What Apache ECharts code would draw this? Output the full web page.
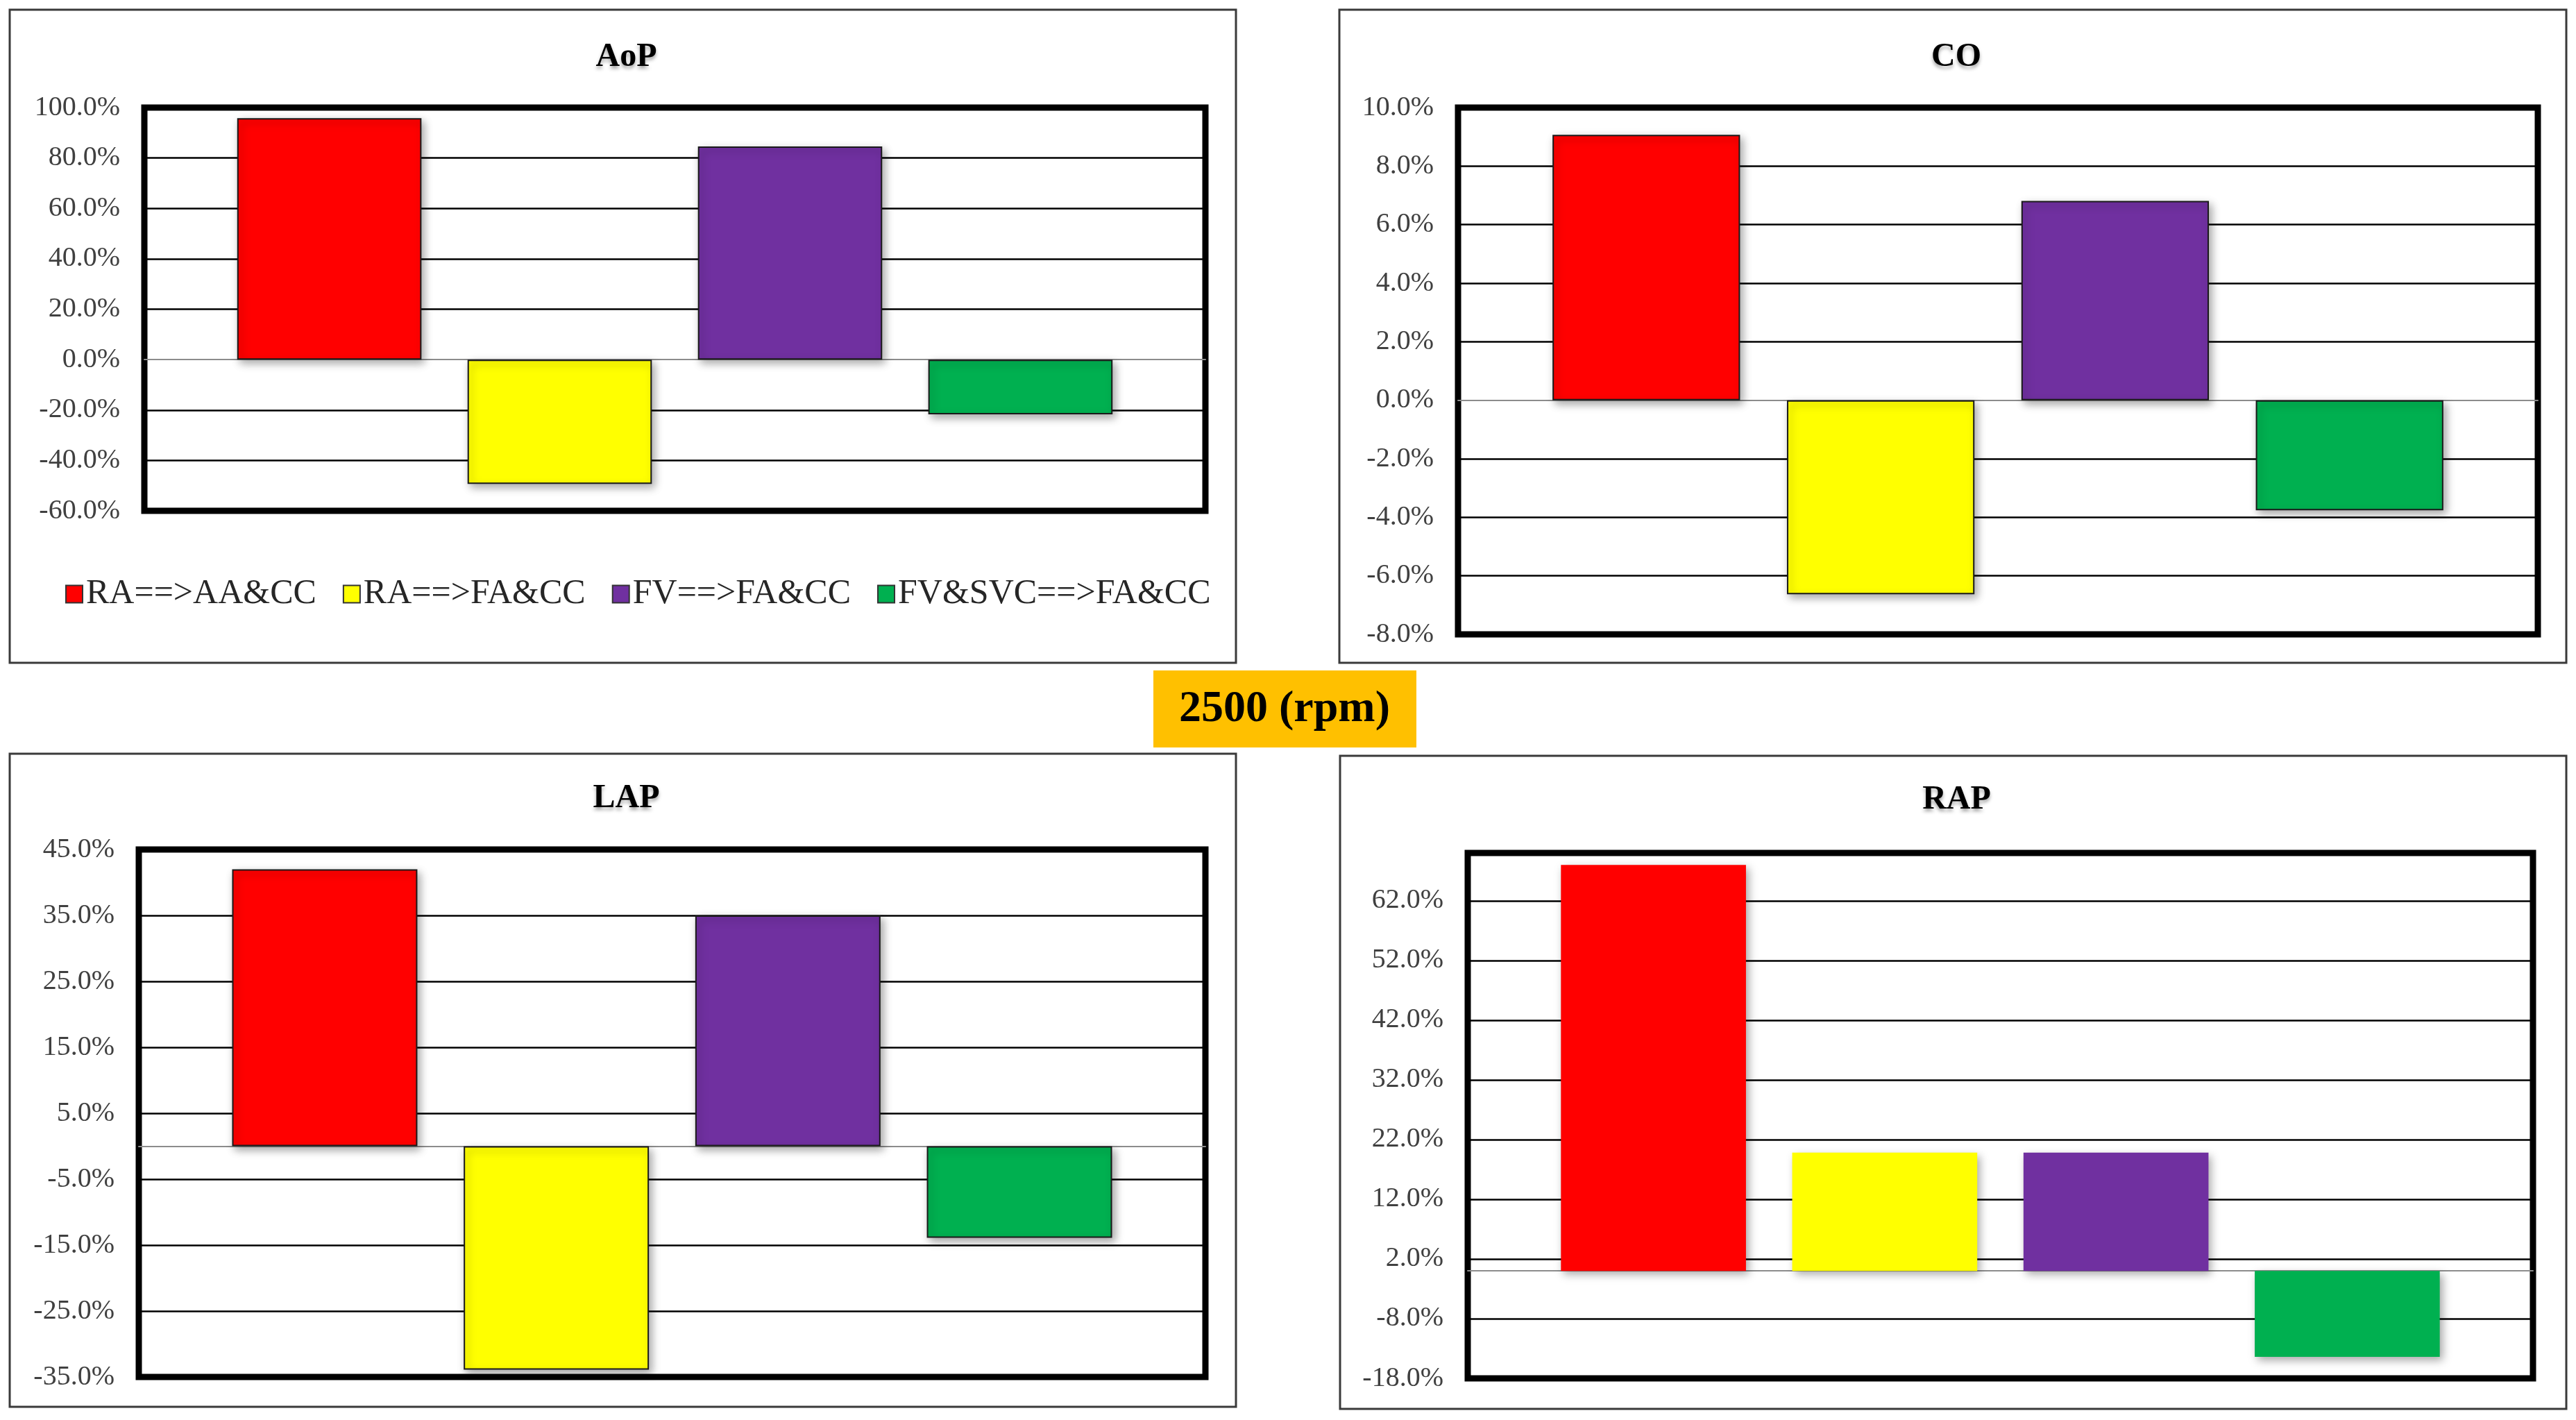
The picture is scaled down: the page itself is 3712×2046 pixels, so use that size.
<!DOCTYPE html>
<html><head><meta charset="utf-8">
<script src="https://cdn.jsdelivr.net/npm/echarts@6/dist/echarts.min.js"></script>
<style>html,body{margin:0;padding:0;background:#fff}#c{width:3712px;height:2046px}</style>
</head><body><div id="c"></div>
<script>
// ---- data ----
const seriesNames = ['RA==>AA&CC', 'RA==>FA&CC', 'FV==>FA&CC', 'FV&SVC==>FA&CC'];
const seriesColors = ['#FF0000', '#FFFF00', '#7030A0', '#00B050'];
const panelTitles = ['AoP', 'CO', 'LAP', 'RAP'];
const aopValues = [95.8, -49.3, 84.6, -21.7];
const coValues = [9.07, -6.63, 6.81, -3.76];
const lapValues = [42.0, -33.9, 35.0, -13.9];
const rapValues = [68.0, 19.8, 19.8, -14.4];
const aopTicks = [-60, -40, -20, 0, 20, 40, 60, 80, 100];
const coTicks = [-8, -6, -4, -2, 0, 2, 4, 6, 8, 10];
const lapTicks = [-35, -25, -15, -5, 5, 15, 25, 35, 45];
const rapTicks = [-18, -8, 2, 12, 22, 32, 42, 52, 62];
const rapMax = 70;
const rpmLabel = '2500 (rpm)';

// ---- layout ----
const panels = [
  { box: [14, 14, 1767, 941], grid: { left: 208, top: 155, width: 1529, height: 581 }, titleY: 54, values: aopValues, ticks: aopTicks, max: 100, border: 2 },
  { box: [1930, 14, 1768, 941], grid: { left: 2101, top: 155, width: 1556, height: 759 }, titleY: 54, values: coValues, ticks: coTicks, max: 10, border: 2 },
  { box: [14, 1086, 1767, 941], grid: { left: 200, top: 1224, width: 1537, height: 760 }, titleY: 1122, values: lapValues, ticks: lapTicks, max: 45, border: 2 },
  { box: [1931, 1089, 1767, 941], grid: { left: 2115, top: 1229, width: 1535, height: 757 }, titleY: 1124, values: rapValues, ticks: rapTicks, max: rapMax, border: 0 }
];

const FONT = 'Liberation Serif';
const grids = [], xAxes = [], yAxes = [], series = [], titles = [], graphics = [];

panels.forEach((p, i) => {
  grids.push(Object.assign({ show: true, borderColor: '#000', borderWidth: 9, backgroundColor: '#fff', containLabel: false }, p.grid));
  xAxes.push({
    type: 'category', gridIndex: i, data: [''],
    axisLine: { show: true, onZero: true, lineStyle: { color: '#8c8c8c', width: 2 } },
    axisTick: { show: false }, axisLabel: { show: false }, splitLine: { show: false }
  });
  yAxes.push({
    type: 'value', gridIndex: i, min: p.ticks[0], max: p.max,
    axisLine: { show: false },
    axisTick: { show: false, customValues: p.ticks.filter(v => v !== 0) },
    axisLabel: {
      customValues: p.ticks, margin: 35,
      fontFamily: FONT, fontSize: 40, color: '#404040',
      formatter: v => v.toFixed(1) + '%'
    },
    splitLine: { show: true, lineStyle: { color: '#000', width: 2.5 } }
  });
  p.values.forEach((v, j) => {
    series.push({
      type: 'bar', name: seriesNames[j], xAxisIndex: i, yAxisIndex: i,
      data: [v], barGap: '25%', barCategoryGap: '17.5%',
      itemStyle: {
        color: seriesColors[j], borderColor: '#1a1a1a', borderWidth: p.border,
        shadowBlur: 12, shadowOffsetX: 4, shadowOffsetY: 5, shadowColor: 'rgba(0,0,0,0.35)'
      },
      emphasis: { disabled: true }
    });
  });
  titles.push({
    text: panelTitles[i], left: p.box[0] + p.box[2] / 2, top: p.titleY, textAlign: 'center',
    textStyle: {
      fontFamily: FONT, fontWeight: 'bold', fontSize: 48, color: '#000',
      textShadowColor: 'rgba(0,0,0,0.35)', textShadowBlur: 5, textShadowOffsetY: 4
    }
  });
  graphics.push({
    type: 'rect', shape: { x: p.box[0], y: p.box[1], width: p.box[2], height: p.box[3] },
    style: { fill: 'transparent', stroke: '#3a3a3a', lineWidth: 3 }, z: 100, silent: true
  });
});

graphics.push({
  type: 'rect', shape: { x: 1662, y: 966, width: 379, height: 111 },
  style: { fill: '#FFC000' }, z: 100
});
graphics.push({
  type: 'text', x: 1851, y: 1022, z: 101,
  style: { text: rpmLabel, fill: '#000', font: 'bold 64px "Liberation Serif"', textAlign: 'center', textVerticalAlign: 'middle' }
});

const option = {
  animation: false,
  backgroundColor: '#fff',
  title: titles,
  legend: {
    data: seriesNames, left: 89, top: 826, icon: 'rect',
    itemWidth: 24, itemHeight: 25, itemGap: 38,
    itemStyle: { borderColor: '#333', borderWidth: 2, shadowBlur: 0, shadowOffsetX: 0, shadowOffsetY: 0 },
    textStyle: { fontFamily: FONT, fontSize: 50, color: '#262626' },
    selectedMode: false
  },
  grid: grids, xAxis: xAxes, yAxis: yAxes, series: series, graphic: graphics
};

const chart = echarts.init(document.getElementById('c'));
chart.setOption(option);
</script></body></html>
